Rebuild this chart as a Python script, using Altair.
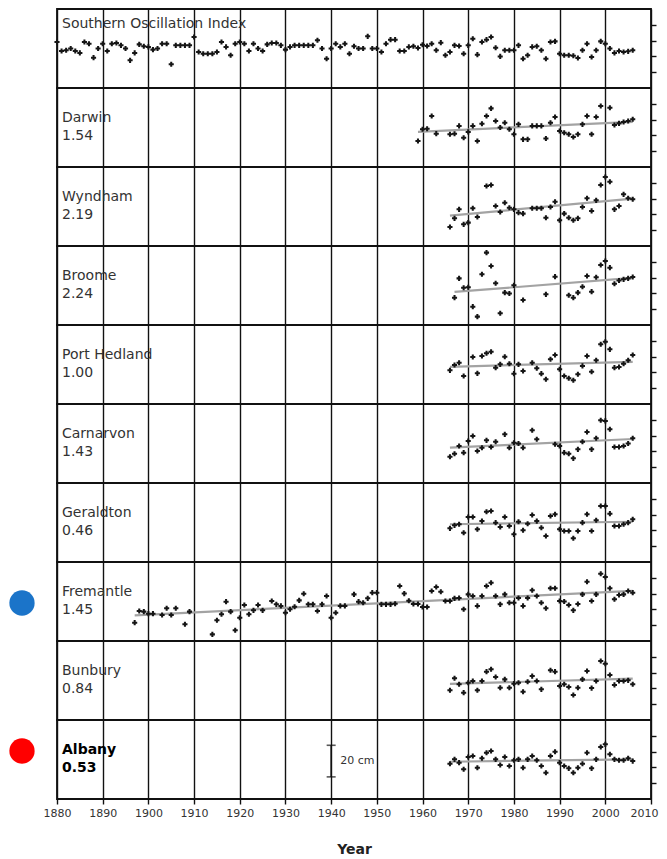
import altair as alt
import pandas as pd

FONT = "DejaVu Sans"
YEAR_DOMAIN = [1880, 2010]
DECADES = [1880, 1890, 1900, 1910, 1920, 1930, 1940, 1950, 1960, 1970, 1980, 1990, 2000, 2010]
LEVEL_DOMAIN = [-25, 25]
RIGHT_TICKS = [-15, -5, 5, 15]

# ---------------- data (cm / index units) ----------------
soi_years = list(range(1880, 2007))
soi_values = [
    4.1, -1.6, -1.1, 0.0, -1.6, -2.8, 4.1, 3.0, -5.8, 0.0,
    3.0, -1.6, 3.0, 3.5, 2.0, 0.0, -7.5, -2.8, 2.6, 1.4,
    1.0, -0.7, 0.0, 3.0, 3.0, -10.0, 2.0, 2.0, 2.0, 2.0,
    7.3, -2.2, -3.3, -3.3, -3.3, -2.2, 4.1, 1.0, -4.3, 3.0,
    4.1, 3.0, -1.6, 3.0, 0.0, -1.6, 2.6, 3.5, 3.5, 2.0,
    -0.7, 1.0, 2.0, 2.0, 2.0, 2.0, 2.0, 5.2, 0.0, -6.5,
    0.0, 3.0, 1.0, 3.0, -3.3, 1.4, 0.0, 0.0, 7.7, 0.0,
    0.0, -2.2, 3.0, 5.6, 5.6, -1.6, -1.6, 1.0, 1.4, 0.3,
    2.4, 1.6, 3.0, -1.1, 3.7, -4.3, -2.2, 2.0, 1.6, -3.3,
    2.0, 6.2, -3.9, 4.1, 5.6, 7.3, 0.5, -5.0, -1.1, -1.1,
    -1.1, 2.0, -6.5, -4.3, 1.0, 1.4, -1.1, -6.5, 4.1, 4.5,
    -3.3, -4.3, -4.3, -4.6, -6.0, -1.1, 3.0, -5.4, -1.1, 4.5,
    3.0, 0.0, -2.8, -1.6, -2.2, -1.8, -1.1,
]

darwin_years = [1959, 1960, 1961, 1962, 1963, 1966, 1967, 1968, 1969, 1970, 1971, 1972,
                1973, 1974, 1975, 1976, 1977, 1978, 1979, 1980, 1981, 1982, 1983, 1984,
                1985, 1986, 1987, 1988, 1989, 1990, 1991, 1992, 1993, 1994, 1995, 1996,
                1997, 1998, 1999, 2001, 2002, 2003, 2004, 2005, 2006]
darwin_values = [-8.5, -1.1, -0.8, 7.3, -3.9, -4.3, -4.0, 1.0, -6.5, -2.8, 1.0, -8.5,
                 2.4, 7.3, 12.1, 4.1, 0.0, 3.0, -1.1, -4.3, 2.0, -7.5, -7.5, 1.0,
                 1.0, 1.0, -7.0, 3.0, 6.6, -2.2, -3.3, -4.3, -6.0, -4.3, 2.0, 7.3,
                 -4.3, 6.6, 13.6, 12.5, 1.6, 2.6, 3.5, 4.1, 5.2]

wyndham_years = [1966, 1967, 1968, 1969, 1970, 1971, 1972, 1974, 1975, 1976, 1977, 1978,
                 1979, 1980, 1981, 1982, 1984, 1985, 1986, 1987, 1988, 1989, 1990, 1991,
                 1992, 1993, 1994, 1995, 1996, 1997, 1998, 1999, 2000, 2001, 2002, 2003,
                 2004, 2005, 2006]
wyndham_values = [-13.0, -7.5, -1.8, -11.3, -10.2, -1.1, -6.6, 13.0, 13.6, 0.3, -3.5, 2.4,
                  -0.8, -1.8, -3.9, -4.5, -1.1, -1.1, -1.1, -7.1, -0.3, 3.0, -8.7, -4.5,
                  -7.1, -8.7, -7.5, -0.3, 5.2, -2.8, 3.9, 13.6, 18.7, 15.7, -1.8, 0.3,
                  7.7, 5.2, 4.6]

broome_years = [1967, 1968, 1969, 1970, 1971, 1972, 1973, 1974, 1975, 1976, 1977, 1978,
                1979, 1980, 1982, 1987, 1989, 1992, 1993, 1994, 1995, 1996, 1997, 1998,
                1999, 2000, 2001, 2002, 2003, 2004, 2005, 2006]
broome_values = [-7.7, 4.5, -1.4, -1.1, -13.4, -19.7, 7.1, 20.8, 12.3, 1.4, -17.6, -4.5,
                 -5.1, 0.1, -9.2, -5.6, 5.6, -6.2, -7.7, -4.5, -0.8, 6.0, -3.9, 5.2,
                 13.0, 15.5, 11.3, 1.1, 3.2, 3.9, 4.5, 5.4]

hedland_years = [1966, 1967, 1968, 1969, 1971, 1972, 1973, 1974, 1975, 1976, 1977, 1978,
                 1979, 1980, 1981, 1982, 1984, 1985, 1986, 1987, 1988, 1989, 1990, 1991,
                 1992, 1993, 1994, 1995, 1996, 1997, 1998, 1999, 2000, 2001, 2002, 2003,
                 2004, 2005, 2006]
hedland_values = [-3.7, -0.3, 1.1, -7.3, 4.7, -5.6, 5.4, 7.1, 8.1, -2.0, 0.1, 4.9,
                  0.5, -5.8, 0.1, -4.1, 1.1, -2.4, -5.8, -9.3, 3.3, 6.0, -3.0, -7.3,
                  -8.7, -10.0, -6.2, -0.9, 5.4, -4.6, 2.7, 12.8, 14.4, 9.6, -2.0, -1.6,
                  0.5, 2.7, 6.0]

carnarvon_years = [1966, 1967, 1968, 1969, 1970, 1971, 1972, 1973, 1974, 1975, 1976, 1978,
                   1979, 1980, 1981, 1982, 1984, 1985, 1989, 1990, 1991, 1992, 1993, 1994,
                   1995, 1996, 1997, 1998, 1999, 2000, 2001, 2002, 2003, 2004, 2005, 2006]
carnarvon_values = [-8.4, -6.5, -1.6, -5.8, 1.6, 4.7, -4.7, -2.7, 2.0, -2.2, 1.1, 5.8,
                    -2.7, 0.5, 0.0, -2.7, 8.4, 2.7, -0.5, -1.6, -5.8, -6.5, -9.4, -3.7,
                    1.1, 7.3, -3.7, 3.3, 14.7, 14.3, 9.0, -2.2, -2.2, -1.6, 0.0, 3.3]

geraldton_years = list(range(1966, 2007))
geraldton_values = [-3.7, -1.8, -1.1, -6.5, 3.5, 3.5, -4.3, 0.9, 6.8, 7.3, -0.1, -2.8,
                    3.5, -2.2, -7.5, 0.5, -4.9, -0.8, 4.7, 0.9, -3.3, -8.5, 4.1, 5.2,
                    -4.3, -5.4, -5.4, -10.0, -5.4, -0.1, 5.2, -5.4, 1.4, 10.4, 10.4, 5.6,
                    -2.2, -2.2, -1.1, -0.1, 2.0]

fremantle_years = [1897, 1898, 1899, 1900, 1901, 1903, 1904, 1905, 1906, 1908, 1909,
                   1914, 1915, 1916, 1917, 1918, 1919, 1920, 1921, 1922, 1923, 1924, 1925,
                   1927, 1928, 1929, 1930, 1931, 1932, 1933, 1934, 1935, 1936, 1937, 1938,
                   1939, 1940, 1941, 1942, 1943, 1945, 1946, 1947, 1948, 1949, 1950, 1951,
                   1952, 1953, 1954, 1955, 1956, 1957, 1958, 1959, 1960, 1961, 1962, 1963,
                   1964, 1965, 1966, 1967, 1968, 1969, 1970, 1971, 1972, 1973, 1974, 1975,
                   1976, 1977, 1978, 1979, 1980, 1981, 1982, 1983, 1984, 1985, 1986, 1987,
                   1988, 1989, 1990, 1991, 1992, 1993, 1994, 1995, 1996, 1997, 1998, 1999,
                   2000, 2001, 2002, 2003, 2004, 2005, 2006]
fremantle_values = [-13.4, -6.0, -6.4, -7.7, -7.7, -8.5, -4.3, -8.5, -4.3, -14.4, -6.4,
                    -20.8, -11.9, -8.1, -0.1, -6.4, -18.2, -10.3, -2.2, -8.1, -5.6, -2.2, -5.6,
                    0.3, -1.8, -2.8, -7.1, -4.9, -3.3, 0.7, 4.9, -1.8, -1.8, -6.0, -1.8,
                    3.5, -10.3, -7.1, -2.8, -2.8, 4.5, -0.1, -0.8, 2.0, 5.6, 5.6, -1.8,
                    -1.8, -1.8, -1.4, 9.8, 5.0, 0.5, -1.6, -1.6, -3.5, -3.5, 6.6, 9.2,
                    6.2, 0.3, 0.3, 2.0, 2.2, -4.9, 4.5, 3.5, -2.8, 3.5, 9.8, 11.9,
                    3.5, -1.8, 4.5, -0.8, -0.8, 2.2, -2.8, 2.2, 7.1, 3.5, -0.8, -4.3,
                    8.4, 8.4, 0.3, 0.0, -2.2, -5.6, -1.6, 4.5, 12.5, 0.3, 4.5, 17.6,
                    15.5, 8.4, 1.4, 4.1, 4.5, 6.6, 5.6]

bunbury_years = [1966, 1967, 1968, 1969, 1970, 1971, 1972, 1973, 1974, 1975, 1976, 1977,
                 1978, 1979, 1980, 1981, 1982, 1983, 1984, 1985, 1986, 1988, 1989, 1990,
                 1991, 1992, 1993, 1994, 1995, 1996, 1997, 1998, 1999, 2000, 2001, 2002,
                 2003, 2004, 2005, 2006]
bunbury_values = [-6.2, 1.4, -2.4, -7.7, -1.4, -0.3, -6.2, -0.3, 5.6, 7.1, 2.2, -4.6,
                  0.7, -4.6, -2.0, -1.4, -7.1, -0.8, 2.8, -0.3, -5.6, 6.5, 5.6, -3.5,
                  -2.4, -4.1, -9.2, -4.6, 0.7, 6.0, -4.8, -0.3, 12.3, 10.6, 3.5, -2.8,
                  -0.3, -0.3, 0.1, -2.4]

albany_years = list(range(1966, 2007))
albany_values = [-2.7, 0.1, -2.0, -6.2, 1.6, 2.2, -5.2, 0.8, 4.3, 5.4, 0.1, -3.5,
                 1.6, -4.1, -0.5, 0.1, -5.2, 0.1, 2.2, -0.5, -4.1, -8.4, 2.2, 4.9,
                 -2.0, -4.1, -5.6, -8.4, -5.2, -2.7, 4.3, -5.6, 0.1, 7.9, 9.6, 3.3,
                 0.1, -0.5, -0.5, 0.8, -1.0]

panel_names = ["Southern Oscillation Index", "Darwin", "Wyndham", "Broome", "Port Hedland",
               "Carnarvon", "Geraldton", "Fremantle", "Bunbury", "Albany"]
panel_trends = [None, "1.54", "2.19", "2.24", "1.00", "1.43", "0.46", "1.45", "0.84", "0.53"]
panel_years = [soi_years, darwin_years, wyndham_years, broome_years, hedland_years,
               carnarvon_years, geraldton_years, fremantle_years, bunbury_years, albany_years]
panel_values = [soi_values, darwin_values, wyndham_values, broome_values, hedland_values,
                carnarvon_values, geraldton_values, fremantle_values, bunbury_values, albany_values]

highlight_names = ["Fremantle", "Albany"]
highlight_colors = ["#1b74c9", "#ff0000"]
highlight_pos = [41, 31]

scale_bar_panel = "Albany"
scale_bar_year = [1940]
scale_bar_ends = [-11, 9]
scale_bar_label = "20 cm"

PANEL_W, PANEL_H = 594, 79


def make_panel(i):
    name = panel_names[i]
    trend = panel_trends[i]
    is_last = i == len(panel_names) - 1
    df = pd.DataFrame({"year": panel_years[i], "value": panel_values[i]})

    if is_last:
        x_axis = alt.Axis(
            values=DECADES, grid=True, labels=True, ticks=True, domain=False,
            format="d", title="Year", tickSize=5, labelPadding=3,
            labelFontSize=11, labelFlush=False, labelOverlap=False,
            labelAlign={"condition": {"test": "datum.value == 2010", "value": "right"},
                        "value": "center"},
            labelOffset={"condition": {"test": "datum.value == 2010", "value": 7},
                         "value": 0},
            titleFontSize=14, titleFontWeight="bold", titlePadding=24)
    else:
        x_axis = alt.Axis(values=DECADES, grid=True, labels=False, ticks=False,
                          domain=False, title=None)
    x = alt.X("year:Q", scale=alt.Scale(domain=YEAR_DOMAIN, nice=False, zero=False), axis=x_axis)
    y = alt.Y("value:Q", scale=alt.Scale(domain=LEVEL_DOMAIN, nice=False, zero=False),
              axis=alt.Axis(orient="right", values=RIGHT_TICKS, labels=False, grid=False,
                            domain=False, ticks=True, tickSize=5, title=None))

    base = alt.Chart(df)
    layers = []
    if trend is not None:
        layers.append(
            base.transform_regression("year", "value")
            .mark_line(color="#a3a3a3", strokeWidth=2.2)
            .encode(x=x, y=y)
        )
    layers.append(
        base.mark_point(shape="cross", filled=True, size=26, color="#151515", opacity=1)
        .encode(x=x, y=y)
    )

    bold = name == "Albany"
    txt_color = "#000000" if bold else "#333333"
    weight = "bold" if bold else "normal"
    name_y = 15 if trend is None else 30
    layers.append(
        alt.Chart(pd.DataFrame({"label": [name]}))
        .mark_text(align="left", baseline="middle", font=FONT, fontSize=14,
                   color=txt_color, fontWeight=weight)
        .encode(x=alt.value(5), y=alt.value(name_y), text="label:N")
    )
    if trend is not None:
        layers.append(
            alt.Chart(pd.DataFrame({"label": [trend]}))
            .mark_text(align="left", baseline="middle", font=FONT, fontSize=14,
                       color=txt_color, fontWeight=weight)
            .encode(x=alt.value(5), y=alt.value(48), text="label:N")
        )

    if name in highlight_names:
        k = highlight_names.index(name)
        layers.append(
            alt.Chart(pd.DataFrame({"c": [highlight_colors[k]]}))
            .mark_circle(size=640, opacity=1)
            .encode(x=alt.value(-35), y=alt.value(highlight_pos[k]),
                    color=alt.Color("c:N", scale=None))
        )

    if name == scale_bar_panel:
        bar_df = pd.DataFrame({"year": scale_bar_year * 2, "value": scale_bar_ends})
        layers.append(
            alt.Chart(bar_df).mark_line(color="#111", strokeWidth=1.5).encode(x=x, y=y)
        )
        layers.append(
            alt.Chart(bar_df).mark_tick(orient="horizontal", size=9, thickness=1.6, color="#111")
            .encode(x=x, y=y)
        )
        layers.append(
            alt.Chart(pd.DataFrame({"year": [scale_bar_year[0] + 2],
                                    "value": [sum(scale_bar_ends) / 2],
                                    "label": [scale_bar_label]}))
            .mark_text(align="left", baseline="middle", font=FONT, fontSize=11, color="#333")
            .encode(x=x, y=y, text="label:N")
        )

    return alt.layer(*layers).properties(width=PANEL_W, height=PANEL_H)


chart = (
    alt.vconcat(*[make_panel(i) for i in range(len(panel_names))], spacing=0, bounds="flush")
    .properties(padding=0)
    .configure_view(stroke="#111", strokeWidth=1.8)
    .configure_axis(gridColor="#111", gridWidth=1.4, gridOpacity=1, tickColor="#111",
                    tickWidth=1.4, labelFont=FONT, titleFont=FONT, labelColor="#333",
                    titleColor="#222")
)

chart.save("out.html", embed_options={"renderer": "svg", "actions": False})
